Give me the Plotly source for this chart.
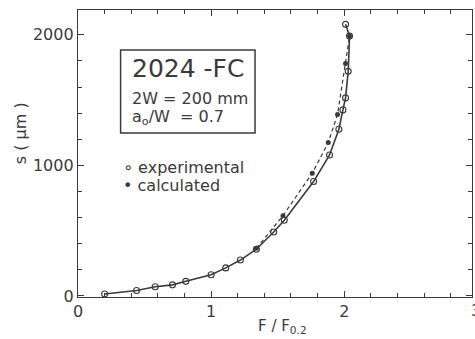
import plotly.graph_objects as go

# experimental (open circles, solid line)
exp_F = [0.20, 0.44, 0.58, 0.71, 0.81, 1.00, 1.11, 1.22, 1.34, 1.47, 1.55, 1.77, 1.89, 1.96, 1.99, 2.01, 2.03, 2.04, 2.01]
exp_s = [15, 42, 70, 85, 112, 162, 215, 275, 358, 490, 580, 876, 1080, 1277, 1425, 1517, 1720, 1990, 2080]

# calculated (filled circles, dashed line)
calc_F = [1.34, 1.54, 1.76, 1.88, 1.95, 2.01, 2.04]
calc_s = [365, 615, 940, 1175, 1390, 1780, 1990]

x_ticks = [0, 1, 2]
y_ticks = [0, 1000, 2000]

ink = "#3a3a3a"
font = "DejaVu Sans"

fig = go.Figure()
fig.add_trace(go.Scatter(x=calc_F, y=calc_s, mode="lines+markers",
                         line=dict(color=ink, width=1.2, dash="4px,3px"),
                         marker=dict(symbol="circle", size=5, color=ink),
                         showlegend=False))
fig.add_trace(go.Scatter(x=exp_F, y=exp_s, mode="lines+markers",
                         line=dict(color=ink, width=1.6),
                         marker=dict(symbol="circle-open", size=6, color=ink, line=dict(width=1.1)),
                         showlegend=False))

axis_common = dict(showline=True, linecolor=ink, linewidth=1.3, mirror="ticks",
                   ticks="inside", ticklen=6, tickwidth=1.2, tickcolor=ink,
                   showgrid=False, zeroline=False, automargin=False,
                   tickfont=dict(family=font, size=16, color=ink))

fig.update_xaxes(range=[0, 2.96], tickvals=x_ticks, ticktext=[str(v) for v in x_ticks],
                 minor=dict(dtick=0.2, tick0=0, ticks="inside", ticklen=4, tickcolor=ink, tickwidth=1),
                 **axis_common)
fig.update_yaxes(range=[-8, 2190], tickvals=y_ticks, ticktext=[str(v) for v in y_ticks],
                 minor=dict(dtick=200, tick0=0, ticks="inside", ticklen=4, tickcolor=ink, tickwidth=1),
                 **axis_common)

# axis titles
fig.add_annotation(xref="paper", yref="paper", x=0.52, y=-0.102, xanchor="center", yanchor="middle",
                   text="F / F<sub>0.2</sub>", showarrow=False, font=dict(family=font, size=15, color=ink))
fig.add_annotation(xref="paper", yref="paper", x=-0.147, y=0.571, xanchor="center", yanchor="middle",
                   text="s ( μm )", textangle=-90, showarrow=False, font=dict(family=font, size=16, color=ink))

# partially visible "3" tick label at the right edge
fig.add_annotation(xref="paper", yref="paper", x=1.0 + 4 / 394, y=0, yanchor="top", xanchor="center",
                   yshift=-2, text="3", showarrow=False, font=dict(family=font, size=16, color=ink))

# label box
fig.add_shape(type="rect", xref="x", yref="y", x0=0.32, x1=1.33, y0=1248, y1=1884,
              line=dict(color=ink, width=1.5), fillcolor="rgba(0,0,0,0)")
fig.add_annotation(xref="x", yref="y", x=0.39, y=1745, xanchor="left", yanchor="middle",
                   text="2024 -FC", showarrow=False, font=dict(family=font, size=25, color=ink))
fig.add_annotation(xref="x", yref="y", x=0.39, y=1510, xanchor="left", yanchor="middle",
                   text="2W = 200 mm", showarrow=False, font=dict(family=font, size=16, color=ink))
fig.add_annotation(xref="x", yref="y", x=0.39, y=1370, xanchor="left", yanchor="middle",
                   text="a<sub>o</sub>/W  = 0.7", showarrow=False, font=dict(family=font, size=16, color=ink))
fig.add_annotation(xref="x", yref="y", x=0.32, y=985, xanchor="left", yanchor="middle",
                   text="∘ experimental", showarrow=False, font=dict(family=font, size=16, color=ink))
fig.add_annotation(xref="x", yref="y", x=0.32, y=845, xanchor="left", yanchor="middle",
                   text="• calculated", showarrow=False, font=dict(family=font, size=16, color=ink))

fig.update_layout(width=475, height=339,
                  margin=dict(l=78, r=3, t=10, b=42),
                  paper_bgcolor="white", plot_bgcolor="white",
                  font=dict(family=font, color=ink))

fig.write_html("out.html", config={"displayModeBar": False},
               post_script="document.body.style.margin='0';document.body.style.overflow='hidden';")
